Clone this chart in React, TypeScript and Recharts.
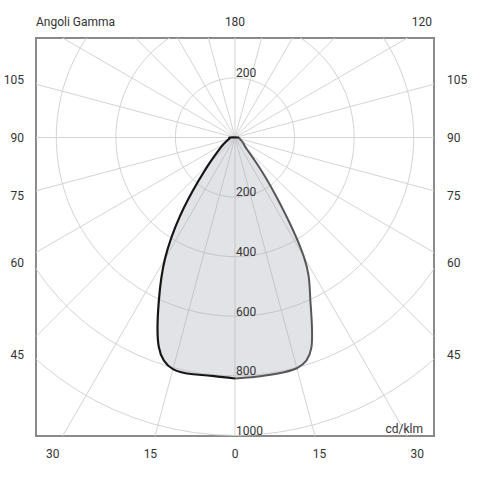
import {
  ComposedChart,
  Curve,
  ReferenceArea,
  ReferenceDot,
  ReferenceLine,
  Scatter,
  XAxis,
  YAxis,
} from "recharts"

// gamma angles (deg from nadir) and intensity in cd/klm
const GAMMA = [0, 5, 10, 15, 20, 25, 30, 35, 40, 45, 50, 55, 60, 65, 70, 75, 80, 85, 90]
const LEFT_CD = [809, 804, 807, 805, 748, 605, 470, 322, 192, 120, 80, 58, 44, 34, 27, 22, 19, 18, 17]
const RIGHT_CD = [809, 806, 805, 802, 750, 598, 462, 240, 112, 58, 42, 34, 28, 23, 19, 17, 15, 14, 13]

const RINGS = [200, 400, 600, 800, 1000]
const RING_LABELS_UP = [200]
const RING_LABELS_DOWN = [200, 400, 600, 800, 1000]
const SPOKES = [0, 15, 30, 45, 60, 75, 90, 105, 120, 135, 150, 165]

const BOTTOM_GAMMA = [-30, -15, 0, 15, 30]
const SIDE_GAMMA = [105, 90, 75, 60, 45]
const TOP_LABELS = ["180", "120"]
const TOP_TICKS = [0, 627]

const X_DOMAIN: [number, number] = [-668, 668]
const Y_DOMAIN: [number, number] = [-1002, 334]
const BOTTOM_LABEL_DIST = 1060
const SIDE_LABEL_DIST = 728

const rad = (d: number) => (d * Math.PI) / 180
const toXY = (g: number, v: number, side: number) => ({
  x: side * v * Math.sin(rad(g)),
  y: -v * Math.cos(rad(g)),
})

const leftPts = [toXY(90, RIGHT_CD[RIGHT_CD.length - 1], 1)].concat(
  GAMMA.map((g, i) => toXY(g, LEFT_CD[i], -1)).reverse()
)
const rightPts = GAMMA.map((g, i) => toXY(g, RIGHT_CD[i], 1))
const fillPts = GAMMA.map((g, i) => toXY(g, LEFT_CD[i], -1))
  .reverse()
  .concat(rightPts.slice(1))

const ringPts = (r: number) => {
  const pts = []
  for (let a = 0; a <= 360; a += 4) pts.push(toXY(a, r, 1))
  return pts
}

const bottomTicks = BOTTOM_GAMMA.map((g) => BOTTOM_LABEL_DIST * Math.tan(rad(g)))
const sideTicks = SIDE_GAMMA.map((g) => -SIDE_LABEL_DIST * Math.cos(rad(g)) / Math.sin(rad(g)))

const tickStyle = { fill: "#333", fontSize: 12 }
const noDot = () => <g />

const textAt = (text: string, dx: number, dy: number, anchor = "start") => (p: any) => (
  <text x={p.viewBox.x + dx} y={p.viewBox.y + dy} dy="0.355em" textAnchor={anchor} fill="#333" fontSize={12}>
    {text}
  </text>
)

export default function App() {
  return (
    <div
      style={{
        position: "absolute",
        left: 0,
        top: 0,
        width: 482,
        height: 487,
        background: "#fff",
        fontFamily: "Roboto, sans-serif",
      }}
    >
      <ComposedChart width={482} height={487} margin={{ top: 38, right: 8, bottom: 21, left: 0 }}>
        <XAxis
          dataKey="x"
          type="number"
          domain={X_DOMAIN}
          allowDataOverflow
          ticks={bottomTicks}
          interval={0}
          tickFormatter={(_v: number, i: number) => String(Math.abs(BOTTOM_GAMMA[i]))}
          axisLine={false}
          tickLine={false}
          tickSize={0}
          tickMargin={13}
          height={30}
          tick={tickStyle}
        />
        <YAxis
          dataKey="y"
          type="number"
          domain={Y_DOMAIN}
          allowDataOverflow
          ticks={sideTicks}
          interval={0}
          tickFormatter={(_v: number, i: number) => String(SIDE_GAMMA[i])}
          axisLine={false}
          tickLine={false}
          tickSize={0}
          tickMargin={12}
          width={36}
          tick={tickStyle}
        />
        <YAxis
          yAxisId="right"
          orientation="right"
          type="number"
          domain={Y_DOMAIN}
          allowDataOverflow
          ticks={sideTicks}
          interval={0}
          tickFormatter={(_v: number, i: number) => String(SIDE_GAMMA[i])}
          axisLine={false}
          tickLine={false}
          tickSize={0}
          tickMargin={13}
          width={40}
          tick={tickStyle}
        />

        {RINGS.map((r) => (
          <Scatter
            key={"ring" + r}
            data={ringPts(r)}
            shape={noDot}
            line={{ stroke: "#d4d4d4", strokeWidth: 1 }}
            lineJointType="linear"
            isAnimationActive={false}
          />
        ))}
        {SPOKES.map((g) => (
          <ReferenceLine
            key={"spoke" + g}
            segment={[toXY(g, 1500, -1), toXY(g + 180, 1500, -1)]}
            stroke="#d4d4d4"
            strokeWidth={1}
            ifOverflow="hidden"
          />
        ))}

        <Scatter
          data={fillPts}
          shape={noDot}
          line={(p: any) => (
            <Curve points={p.points} type="natural" fill="#a6aab2" fillOpacity={0.33} stroke="none" />
          )}
          isAnimationActive={false}
        />
        <Scatter
          data={rightPts}
          shape={noDot}
          line={{ stroke: "#575757", strokeWidth: 2 }}
          lineJointType="natural"
          isAnimationActive={false}
        />
        <Scatter
          data={leftPts}
          shape={noDot}
          line={{ stroke: "#161616", strokeWidth: 2.2 }}
          lineJointType="natural"
          isAnimationActive={false}
        />

        {RING_LABELS_UP.map((v) => (
          <ReferenceDot key={"up" + v} x={0} y={v} r={0} ifOverflow="visible" label={{ content: textAt(String(v), 1, -5) }} />
        ))}
        {RING_LABELS_DOWN.map((v) => (
          <ReferenceDot key={"down" + v} x={0} y={-v} r={0} ifOverflow="visible" label={{ content: textAt(String(v), 1, -5) }} />
        ))}
        {TOP_TICKS.map((t, i) => (
          <ReferenceDot
            key={"top" + i}
            x={t}
            y={Y_DOMAIN[1]}
            r={0}
            ifOverflow="visible"
            label={{ content: textAt(TOP_LABELS[i], 0, -16, "middle") }}
          />
        ))}
        <ReferenceDot
          x={X_DOMAIN[0]}
          y={Y_DOMAIN[1]}
          r={0}
          ifOverflow="visible"
          label={{ content: textAt("Angoli Gamma", 0, -16) }}
        />
        <ReferenceDot
          x={X_DOMAIN[1]}
          y={Y_DOMAIN[0]}
          r={0}
          ifOverflow="visible"
          label={{ content: textAt("cd/klm", -11, -7, "end") }}
        />
        <ReferenceArea
          x1={X_DOMAIN[0]}
          x2={X_DOMAIN[1]}
          y1={Y_DOMAIN[0]}
          y2={Y_DOMAIN[1]}
          fill="none"
          stroke="#8a8a8a"
          strokeWidth={2}
          ifOverflow="visible"
        />
      </ComposedChart>
    </div>
  )
}
